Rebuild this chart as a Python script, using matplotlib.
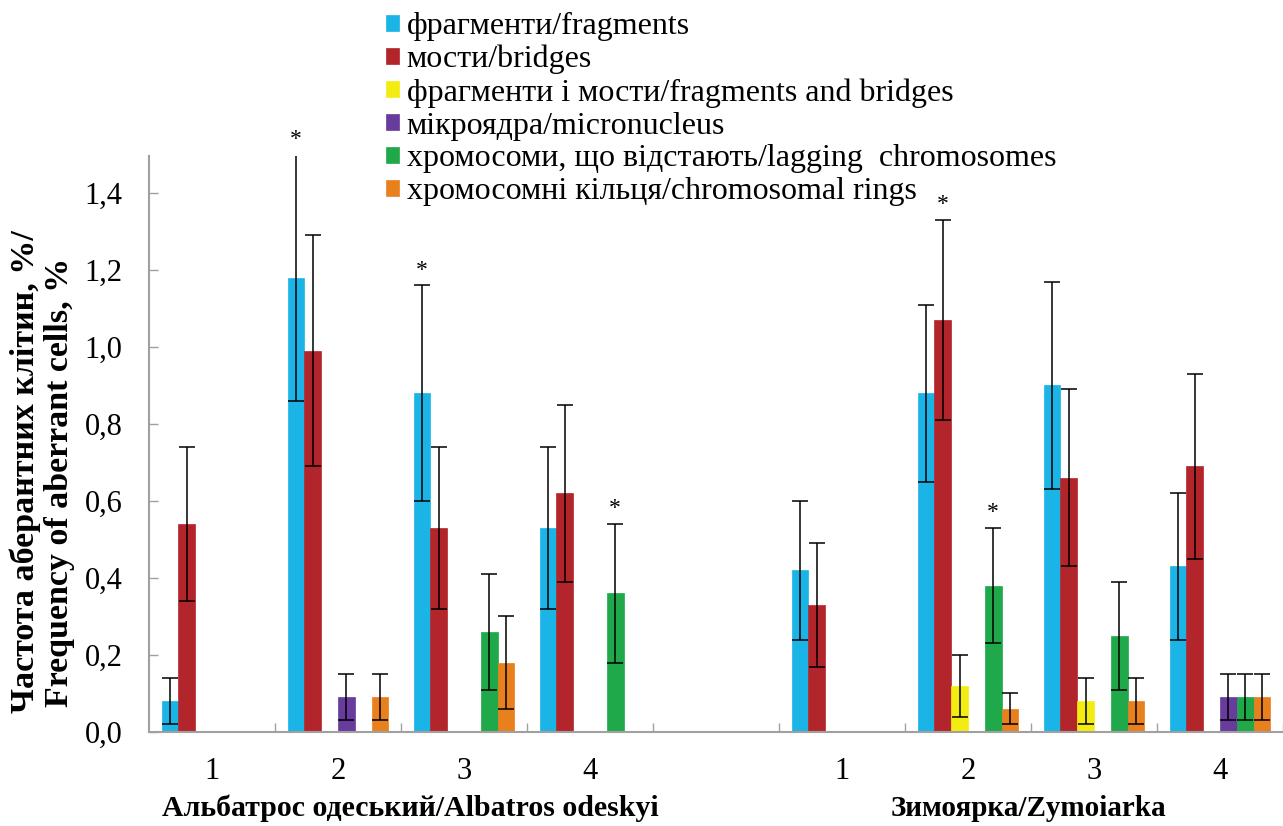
import matplotlib
matplotlib.use("Agg")
import matplotlib.pyplot as plt
import numpy as np

plt.rcParams['font.family'] = ['Liberation Serif', 'DejaVu Serif']

# data: 4 variants for each cultivar (Albatros odeskyi, then Zymoiarka)
tick_labels = ['1', '2', '3', '4', '', '1', '2', '3', '4']
group_names = ['Альбатрос одеський/Albatros odeskyi', 'Зимоярка/Zymoiarka']

series_names = ['фрагменти/fragments',
                'мости/bridges',
                'фрагменти і мости/fragments and bridges',
                'мікроядра/micronucleus',
                'хромосоми, що відстають/lagging  chromosomes',
                'хромосомні кільця/chromosomal rings']
colors = ['#1BB4E6', '#B2262B', '#F3EC12', '#683C9C', '#20A94A', '#E8801E']

frag = [0.08, 1.18, 0.88, 0.53, 0.42, 0.88, 0.90, 0.43]
frag_err = [0.06, 0.32, 0.28, 0.21, 0.18, 0.23, 0.27, 0.19]
bridges = [0.54, 0.99, 0.53, 0.62, 0.33, 1.07, 0.66, 0.69]
bridges_err = [0.20, 0.30, 0.21, 0.23, 0.16, 0.26, 0.23, 0.24]
frag_bridges = [0, 0, 0, 0, 0, 0.12, 0.08, 0]
frag_bridges_err = [0, 0, 0, 0, 0, 0.08, 0.06, 0]
micro = [0, 0.09, 0, 0, 0, 0, 0, 0.09]
micro_err = [0, 0.06, 0, 0, 0, 0, 0, 0.06]
lagging = [0, 0, 0.26, 0.36, 0, 0.38, 0.25, 0.09]
lagging_err = [0, 0, 0.15, 0.18, 0, 0.15, 0.14, 0.06]
rings = [0, 0.09, 0.18, 0, 0, 0.06, 0.08, 0.09]
rings_err = [0, 0.06, 0.12, 0, 0, 0.04, 0.06, 0.06]

# (series, variant) pairs marked with *
stars = [(0, 1), (0, 2), (4, 3), (1, 5), (4, 5)]

values = [frag, bridges, frag_bridges, micro, lagging, rings]
errors = [frag_err, bridges_err, frag_bridges_err, micro_err, lagging_err, rings_err]

fig = plt.figure(figsize=(12.83, 8.26), dpi=100)
ax = fig.add_axes([149/1283, 1-732/826, (1283-149)/1283, (732-156)/826])

slot = np.array([0, 1, 2, 3, 5, 6, 7, 8])   # empty slot 4 between the cultivars
n = len(values)
w = 0.8 / n

for s in range(n):
    v = np.array(values[s])
    e = np.array(errors[s])
    x = slot - 0.4 + w * (s + 0.5)
    m = v > 0
    ax.bar(x[m], v[m], width=w, color=colors[s], edgecolor=colors[s],
           linewidth=0.5, label=series_names[s], zorder=2)
    ax.errorbar(x[m], v[m], yerr=e[m], fmt='none', ecolor='black',
                elinewidth=1.1, capsize=5.5, capthick=1.1, zorder=3)

for s, i in stars:
    x = slot[i] - 0.4 + w * (s + 0.5)
    top = values[s][i] + errors[s][i]
    ax.text(x, top + 0.012, '*', ha='center', va='bottom', fontsize=17)

ax.set_xlim(-0.5, (1283-149)/127 - 0.5)
ax.set_ylim(0, 1.496)

ax.set_xticks(range(9))
ax.set_xticklabels(tick_labels, fontsize=22)
ax.set_xticks(np.arange(0.5, 9, 1), minor=True)
ax.tick_params(axis='x', which='major', length=0, pad=18)
ax.tick_params(axis='x', which='minor', direction='in', length=6.5, color='#a0a0a0', width=1)

ax.set_yticks(np.arange(0, 1.41, 0.2))
ax.set_yticklabels([f'{t:.1f}'.replace('.', ',') for t in np.arange(0, 1.41, 0.2)], fontsize=22)
ax.tick_params(axis='y', direction='in', length=6.5, color='#a0a0a0', width=1, pad=19)

for sp in ['top', 'right']:
    ax.spines[sp].set_visible(False)
for sp in ['left', 'bottom']:
    ax.spines[sp].set_color('#a0a0a0')
    ax.spines[sp].set_linewidth(1.5)

fig.text(25/1283, 1-472/826, 'Частота аберантних клітин, %/', rotation=90,
         ha='center', va='center', fontsize=24.5, fontweight='bold')
fig.text(60/1283, 1-482/826, 'Frequency of aberrant cells, %', rotation=90,
         ha='center', va='center', fontsize=24.5, fontweight='bold')

fig.text(410/1283, 1-808/826, group_names[0], ha='center', va='center',
         fontsize=21.5, fontweight='bold')
fig.text(1028/1283, 1-808/826, group_names[1], ha='center', va='center',
         fontsize=21, fontweight='bold')

fig.legend(loc='upper left', bbox_to_anchor=(386/1283, 1-12/826), frameon=False,
           prop={'family': ['Liberation Serif'], 'size': 23},
           handlelength=0.4, handleheight=0.4, handletextpad=0.25,
           labelspacing=0.12, borderpad=0, borderaxespad=0)

fig.savefig('out.png', dpi=100)
